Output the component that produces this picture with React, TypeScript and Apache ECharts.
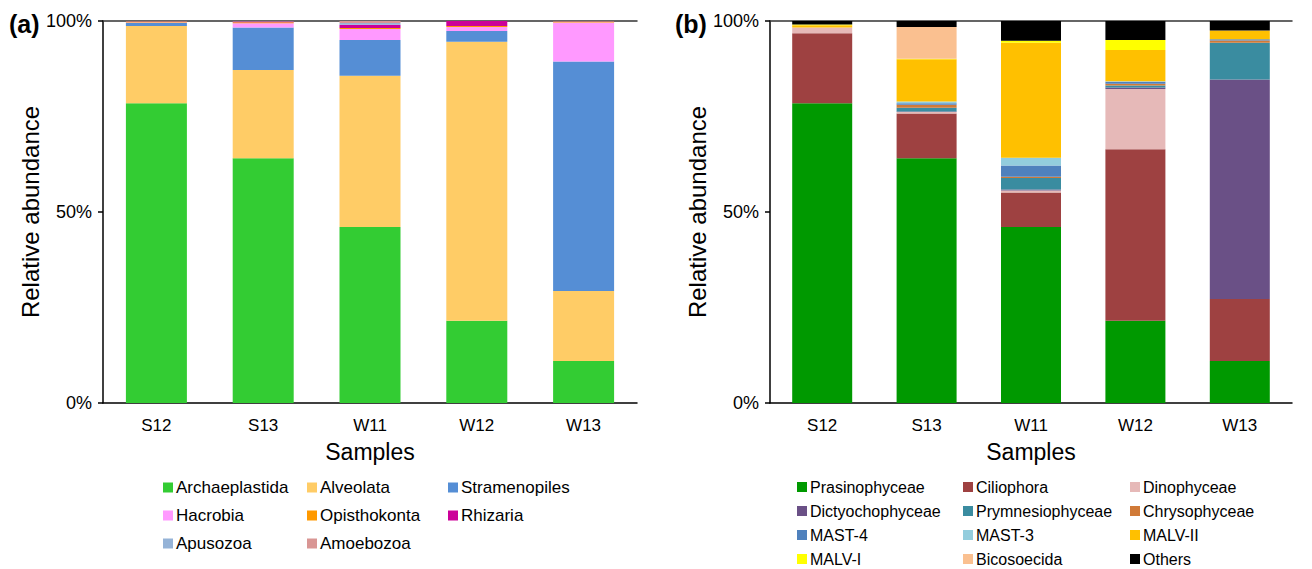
import React, { useEffect, useRef } from "react";
import * as echarts from "echarts";

const samples = ["S12", "S13", "W11", "W12", "W13"];
const yTicks = [0, 50, 100];

// Panel (a) – supergroups (% relative abundance)
const groupsA = ["Archaeplastida", "Alveolata", "Stramenopiles", "Hacrobia", "Opisthokonta", "Rhizaria", "Apusozoa", "Amoebozoa"];
const colorsA = ["#33CC33", "#FFCC66", "#558ED5", "#FF99FF", "#FF9900", "#CC0099", "#95B3D7", "#D99694"];
const archaeplastida = [78.5, 64.1, 46.1, 21.5, 11.0];
const alveolata = [20.2, 23.1, 39.6, 73.1, 18.3];
const stramenopiles = [0.8, 11.1, 9.3, 2.8, 60.1];
const hacrobia = [0.1, 1.1, 2.9, 1.0, 10.2];
const opisthokonta = [0.3, 0.3, 0.3, 0.3, 0.3];
const rhizaria = [0.05, 0.2, 0.8, 1.3, 0.05];
const apusozoa = [0.03, 0.05, 0.5, 0.0, 0.03];
const amoebozoa = [0.02, 0.05, 0.5, 0.0, 0.02];
const valuesA = [archaeplastida, alveolata, stramenopiles, hacrobia, opisthokonta, rhizaria, apusozoa, amoebozoa];

// Panel (b) – classes
const groupsB = ["Prasinophyceae", "Ciliophora", "Dinophyceae", "Dictyochophyceae", "Prymnesiophyceae", "Chrysophyceae", "MAST-4", "MAST-3", "MALV-II", "MALV-I", "Bicosoecida", "Others"];
const colorsB = ["#009900", "#9E4141", "#E6B9B8", "#6A5086", "#3A8CA0", "#D07A38", "#4F81BD", "#93CDDD", "#FFC000", "#FFFF00", "#FAC090", "#000000"];
const prasinophyceae = [78.5, 64.1, 46.1, 21.5, 11.0];
const ciliophora = [18.3, 11.7, 9.0, 44.9, 16.2];
const dinophyceae = [1.5, 0.4, 0.5, 15.8, 0.0];
const dictyochophyceae = [0.0, 0.1, 0.3, 0.4, 57.5];
const prymnesiophyceae = [0.0, 1.0, 3.0, 0.5, 9.6];
const chrysophyceae = [0.0, 0.8, 0.3, 0.5, 0.6];
const mast4 = [0.0, 0.4, 3.0, 0.5, 0.3];
const mast3 = [0.0, 0.4, 2.0, 0.1, 0.0];
const malv2 = [0.6, 11.1, 30.1, 8.2, 2.3];
const malv1 = [0.2, 0.1, 0.5, 2.6, 0.0];
const bicosoecida = [0.0, 8.3, 0.0, 0.0, 0.0];
const others = [0.9, 1.6, 5.2, 5.0, 2.5];
const valuesB = [prasinophyceae, ciliophora, dinophyceae, dictyochophyceae, prymnesiophyceae, chrysophyceae, mast4, mast3, malv2, malv1, bicosoecida, others];

const FONT = "Arial, 'Liberation Sans', sans-serif";

export default function App() {
  const ref = useRef<HTMLDivElement>(null);
  useEffect(() => {
    document.body.style.margin = "0";
    if (!ref.current) return;
    const chart = echarts.init(ref.current, undefined, { renderer: "svg" });

    const grids = [
      { left: 103, top: 21, width: 534, height: 382 },
      { left: 770, top: 21, width: 522, height: 382 },
    ];

    const xAxes: any[] = [];
    const yAxes: any[] = [];
    [0, 1].forEach((g) => {
      xAxes.push({
        type: "category",
        gridIndex: g,
        data: samples,
        name: "Samples",
        nameLocation: "middle",
        nameGap: 37,
        nameTextStyle: { fontSize: 23, color: "#000", fontFamily: FONT },
        axisLine: { lineStyle: { color: "#000", width: 1.5 } },
        axisTick: { alignWithLabel: true, length: 5, lineStyle: { color: "#000", width: 1.5 } },
        axisLabel: { fontSize: 17, color: "#000", margin: 14, fontFamily: FONT },
      });
      xAxes.push({
        type: "category",
        gridIndex: g,
        position: "top",
        data: samples,
        axisLine: { lineStyle: { color: "#333", width: 1.5 } },
        axisTick: { show: false },
        axisLabel: { show: false },
      });
      yAxes.push({
        type: "value",
        gridIndex: g,
        min: yTicks[0],
        max: yTicks[yTicks.length - 1],
        interval: 50,
        name: "Relative abundance",
        nameLocation: "middle",
        nameGap: 59,
        nameTextStyle: { fontSize: 24, color: "#000", fontFamily: FONT },
        axisLine: { show: true, lineStyle: { color: "#000", width: 1.5 } },
        axisTick: { show: true, length: 5, lineStyle: { color: "#000", width: 1.5 } },
        axisLabel: { fontSize: 18, color: "#000", margin: 11, fontFamily: FONT, formatter: (v: number) => v + "%" },
        splitLine: { show: false },
      });
    });

    const series: any[] = [];
    groupsA.forEach((name, i) => {
      series.push({
        name,
        type: "bar",
        stack: "a",
        xAxisIndex: 0,
        yAxisIndex: 0,
        barWidth: 61,
        data: valuesA[i],
        itemStyle: { color: colorsA[i] },
      });
    });
    groupsB.forEach((name, i) => {
      series.push({
        name,
        type: "bar",
        stack: "b",
        xAxisIndex: 2,
        yAxisIndex: 1,
        barWidth: 60,
        data: valuesB[i],
        itemStyle: { color: colorsB[i] },
      });
    });

    const legendBase = {
      orient: "vertical",
      icon: "rect",
      itemWidth: 10,
      itemHeight: 10,
      padding: 0,
      height: 100,
      selectedMode: false,
    };
    const legendA = [
      { left: 163, data: [groupsA[0], groupsA[3], groupsA[6]] },
      { left: 307, data: [groupsA[1], groupsA[4], groupsA[7]] },
      { left: 448, data: [groupsA[2], groupsA[5]] },
    ].map((l) => ({
      ...legendBase,
      ...l,
      top: 479,
      itemGap: 11,
      textStyle: { fontSize: 17, color: "#000", fontFamily: FONT, padding: [0, 0, 0, -2] },
    }));
    const legendB = [
      { left: 797, data: [groupsB[0], groupsB[3], groupsB[6], groupsB[9]] },
      { left: 963, data: [groupsB[1], groupsB[4], groupsB[7], groupsB[10]] },
      { left: 1130, data: [groupsB[2], groupsB[5], groupsB[8], groupsB[11]] },
    ].map((l) => ({
      ...legendBase,
      ...l,
      top: 479,
      itemGap: 8,
      textStyle: { fontSize: 16, color: "#000", fontFamily: FONT, padding: [0, 0, 0, -2] },
    }));

    chart.setOption({
      animation: false,
      textStyle: { fontFamily: FONT },
      title: [
        { text: "(a)", left: 4, top: 6, textStyle: { fontSize: 25, fontWeight: "bold", color: "#000", fontFamily: FONT } },
        { text: "(b)", left: 670, top: 6, textStyle: { fontSize: 25, fontWeight: "bold", color: "#000", fontFamily: FONT } },
      ],
      grid: grids,
      xAxis: xAxes,
      yAxis: yAxes,
      legend: [...legendA, ...legendB],
      series,
    });
    return () => chart.dispose();
  }, []);
  return <div ref={ref} style={{ width: 1312, height: 569 }} />;
}
